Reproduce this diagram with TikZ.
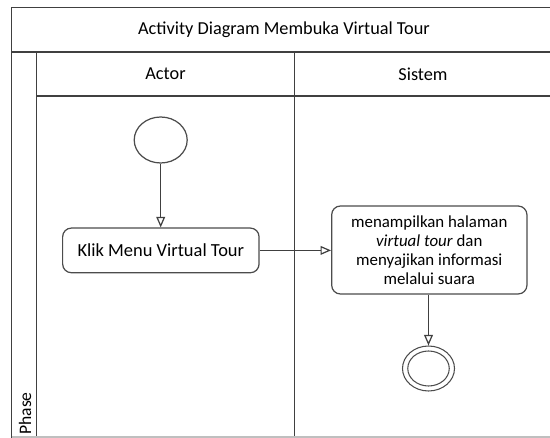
\documentclass[tikz,border=0pt]{standalone}
\usepackage{fontspec}
\setmainfont{Carlito}
\usetikzlibrary{arrows.meta,shapes.geometric}
\begin{document}
\begin{tikzpicture}[x=0.02cm,y=-0.02cm,
  frame/.style={draw=black!75,line width=0.85pt},
  actbox/.style={draw=black!70,line width=0.7pt,rounded corners=5pt,align=center,inner sep=0pt},
  initnode/.style={draw=black!70,line width=0.7pt,ellipse,minimum width=1.06cm,minimum height=0.92cm,inner sep=0pt},
  finalnode/.style={draw=black!70,line width=0.6pt,ellipse,inner sep=0pt},
  flow/.style={draw=black!75,line width=0.7pt,-{Triangle[open,length=6pt,width=5pt]}},
  lbl/.style={font=\fontsize{10.4}{12.5}\selectfont}
]
\useasboundingbox (0,0) rectangle (550,438);
% frame
\draw[frame] (550,7.3) -- (11.7,7.3) -- (11.7,438);
\draw[frame] (11.7,52) -- (550,52);
\draw[frame] (36.7,52) -- (36.7,438);
\draw[frame] (36.7,96) -- (550,96);
\draw[frame] (294.3,52) -- (294.3,438);
\draw[draw=black!25,line width=0.6pt] (11.7,437) -- (550,437);
% labels
\node[lbl] (title) at (284,30) {Activity Diagram Membuka Virtual Tour};
\node[lbl] (actor) at (165.5,74) {Actor};
\node[lbl] (sistem) at (423,74) {Sistem};
\node[font=\fontsize{10}{12}\selectfont,rotate=90,anchor=west,inner sep=0pt] (phase) at (25,435) {Phase};
% nodes
\node[initnode] (start) at (160.7,140) {};
\node[actbox,font=\fontsize{10.5}{12.5}\selectfont,minimum width=3.93cm,minimum height=0.894cm] (klik) at (160.85,250.4) {Klik Menu Virtual Tour};
\node[actbox,font=\fontsize{9.6}{10.8}\selectfont,minimum width=3.906cm,minimum height=1.76cm] (tampil) at (429.3,250) {menampilkan halaman\\\textit{virtual tour} dan\\menyajikan informasi\\melalui suara};
\node[finalnode,minimum width=1.04cm,minimum height=0.9cm] (end) at (428.5,368.5) {};
\node[finalnode,minimum width=0.83cm,minimum height=0.7cm] (endin) at (end.center) {};
% flows
\draw[flow] (start.south) -- (start.south |- klik.north);
\draw[flow] (klik.east) -- (klik.east -| tampil.west);
\draw[flow] (tampil.south -| end.north) -- (end.north);
\end{tikzpicture}
\end{document}
